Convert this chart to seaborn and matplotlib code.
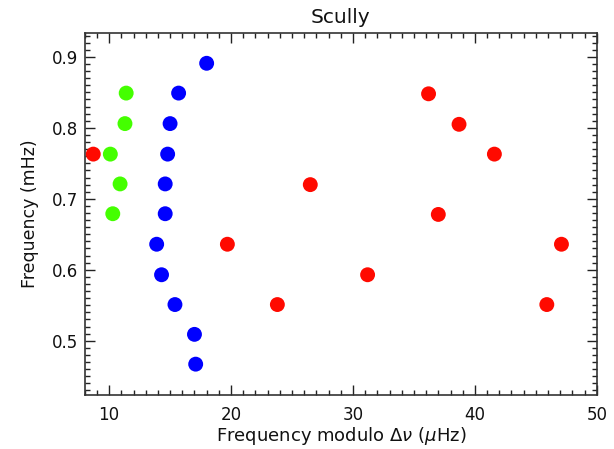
import matplotlib
matplotlib.use("Agg")
import matplotlib.pyplot as plt
from matplotlib.ticker import MultipleLocator
import seaborn as sns
import pandas as pd

# Data
red_x = [8.7, 19.7, 23.8, 26.5, 31.2, 36.2, 37.0, 38.7, 41.6, 45.9, 47.1]
red_y = [0.763, 0.636, 0.551, 0.720, 0.593, 0.848, 0.678, 0.805, 0.763, 0.551, 0.636]
green_x = [10.1, 11.4, 11.3, 10.9, 10.3]
green_y = [0.763, 0.849, 0.806, 0.721, 0.679]
blue_x = [18.0, 15.7, 15.0, 14.8, 14.6, 14.6, 13.9, 14.3, 15.4, 17.0, 17.1]
blue_y = [0.891, 0.849, 0.806, 0.763, 0.721, 0.679, 0.636, 0.593, 0.551, 0.509, 0.467]

series_colors = {"red": "#ff0a00", "green": "#44ff00", "blue": "#0000ff"}

df = pd.concat([
    pd.DataFrame({"x": red_x, "y": red_y, "s": "red"}),
    pd.DataFrame({"x": green_x, "y": green_y, "s": "green"}),
    pd.DataFrame({"x": blue_x, "y": blue_y, "s": "blue"}),
])

sns.set_style("ticks")
plt.rcParams['font.family'] = ['DejaVu Sans']
plt.rcParams['text.color'] = '#111111'
plt.rcParams['axes.labelcolor'] = '#111111'
plt.rcParams['xtick.color'] = '#111111'
plt.rcParams['ytick.color'] = '#111111'

fig = plt.figure(figsize=(6.14, 4.49), dpi=100)
ax = fig.add_axes([0.138, 0.121, 0.834, 0.806])

sns.scatterplot(data=df, x="x", y="y", hue="s", palette=series_colors,
                s=115, linewidth=0, legend=False, ax=ax, zorder=3)

ax.set_xlim(8, 50)
ax.set_ylim(0.424, 0.934)
ax.xaxis.set_minor_locator(MultipleLocator(1))
ax.yaxis.set_minor_locator(MultipleLocator(0.01))
ax.set_xticks([10, 20, 30, 40, 50])
ax.set_xticklabels(["10", "20", "30", "40", "50"])
ax.set_yticks([0.5, 0.6, 0.7, 0.8, 0.9])
ax.set_yticklabels(["0.5", "0.6", "0.7", "0.8", "0.9"])

ax.tick_params(which="both", direction="in", top=True, right=True,
               color="#222222", width=1)
ax.tick_params(which="major", length=7, labelsize=12)
ax.tick_params(axis="y", which="major", pad=5)
ax.tick_params(axis="x", which="major", pad=8)
ax.tick_params(which="minor", length=3.5)
for sp in ax.spines.values():
    sp.set_visible(True)
    sp.set_color("#333333")
    sp.set_linewidth(1.2)

ax.set_xlabel("Frequency modulo $\\Delta\\nu$ ($\\mu$Hz)", fontsize=13, labelpad=1)
ax.set_ylabel("Frequency (mHz)", fontsize=12.5, labelpad=9)
ax.set_title("Scully", fontsize=14.5, pad=7)

fig.savefig("out.png", dpi=100)
